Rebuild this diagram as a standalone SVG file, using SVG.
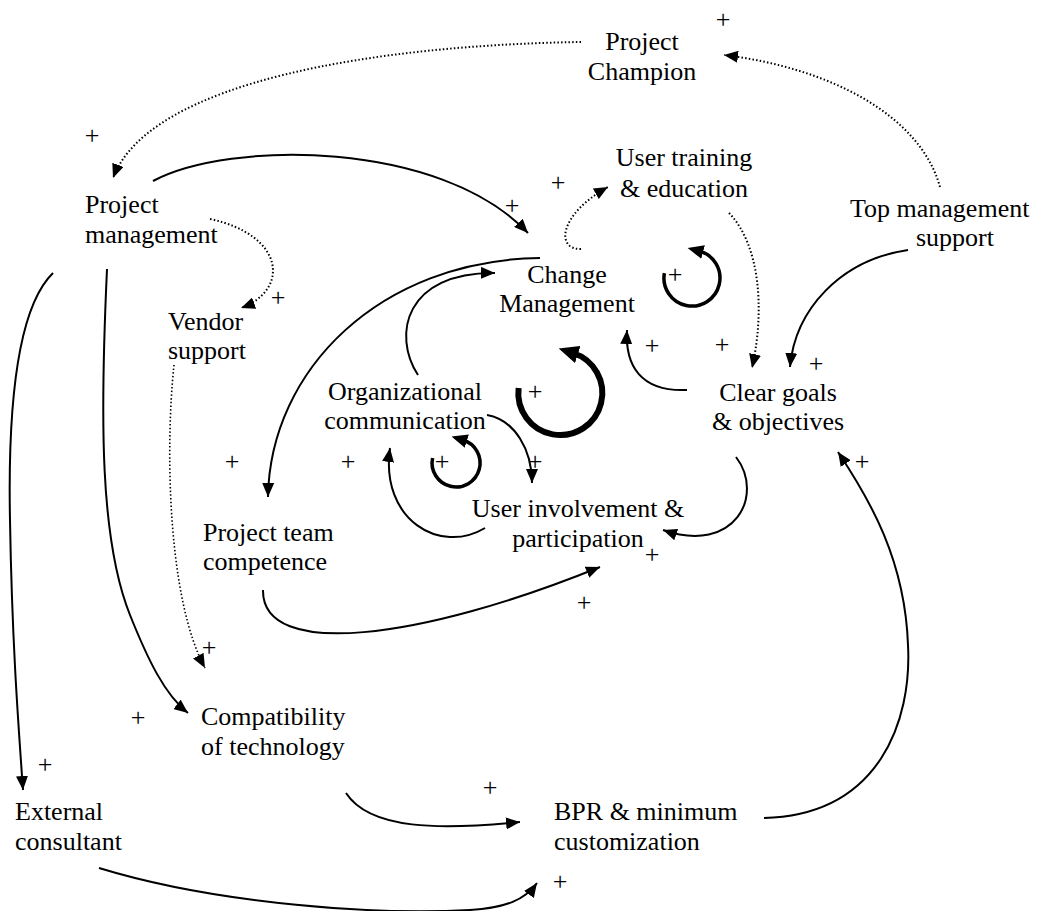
<svg xmlns="http://www.w3.org/2000/svg" width="1047" height="911" viewBox="0 0 1047 911">
<style>
.lbl{font-family:"Liberation Serif","Times New Roman","DejaVu Serif",serif;font-size:26px;fill:#000}
.mid{text-anchor:middle}
.pol{font-family:"Liberation Serif","Times New Roman","DejaVu Serif",serif;font-size:26px;fill:#000;text-anchor:middle}
.c{fill:none;stroke:#000;stroke-width:2}
.d{fill:none;stroke:#000;stroke-width:2;stroke-dasharray:1.5 2.2}
.loop{fill:none;stroke:#000}
</style>
<defs>
<marker id="ah" viewBox="0 0 14 12" refX="14" refY="6" markerWidth="14" markerHeight="12" markerUnits="userSpaceOnUse" orient="auto">
<path d="M0,0 L14,6 L0,12 z" fill="#000"/>
</marker>
<marker id="ahS" viewBox="0 0 16 14" refX="4" refY="7" markerWidth="16" markerHeight="14" markerUnits="userSpaceOnUse" orient="auto">
<path d="M0,0 L16,7 L0,14 z" fill="#000"/>
</marker>
<marker id="ahL" viewBox="0 0 20 18" refX="5" refY="9" markerWidth="20" markerHeight="18" markerUnits="userSpaceOnUse" orient="auto">
<path d="M0,0 L20,9 L0,18 z" fill="#000"/>
</marker>
</defs>
<rect width="1047" height="911" fill="#fff"/>
<g id="connectors">
<path class="d" d="M581,42 C380,45 150,80 113,178" marker-end="url(#ah)"/>
<path class="d" d="M940,187 C920,115 830,68 724,55" marker-end="url(#ah)"/>
<path class="c" d="M153,181 C230,140 440,140 528,233" marker-end="url(#ah)"/>
<path class="d" d="M210,219 C285,235 290,290 241,308" marker-end="url(#ah)"/>
<path class="d" d="M581,249 C556,250 558,215 608,187" marker-end="url(#ah)"/>
<path class="d" d="M729,213 C760,245 765,310 752,368" marker-end="url(#ah)"/>
<path class="c" d="M908,250 C840,260 795,310 790,367" marker-end="url(#ah)"/>
<path class="c" d="M540,258 C380,260 270,370 268,497" marker-end="url(#ah)"/>
<path class="c" d="M418,375 C392,335 405,272 495,273" marker-end="url(#ah)"/>
<path class="c" d="M687,390 C640,392 625,365 627,330" marker-end="url(#ah)"/>
<path class="c" d="M487,415 C515,420 532,450 532,483" marker-end="url(#ah)"/>
<path class="c" d="M485,528 C440,555 380,520 390,448" marker-end="url(#ah)"/>
<path class="c" d="M736,457 C765,495 735,555 663,530" marker-end="url(#ah)"/>
<path class="c" d="M263,590 C262,660 420,640 600,567" marker-end="url(#ah)"/>
<path class="d" d="M174,365 C165,450 168,600 205,668" marker-end="url(#ah)" style="stroke-width:1.6"/>
<path class="c" d="M53,273 C15,310 8,420 10,520 C12,640 18,720 23,790" marker-end="url(#ah)"/>
<path class="c" d="M107,269 C100,420 100,540 130,615 C148,660 165,695 188,713" marker-end="url(#ah)"/>
<path class="c" d="M346,793 C370,830 440,830 520,822" marker-end="url(#ah)"/>
<path class="c" d="M99,868 C220,905 380,915 470,910 C505,908 525,900 537,883" marker-end="url(#ah)"/>
<path class="c" d="M764,818 C880,815 912,720 908,645 C905,560 870,500 838,452" marker-end="url(#ah)"/>
</g>
<g id="loops">
<path class="loop" style="stroke-width:3.5" d="M664.4,273.1 A28,28 0 1 0 699.2,251" marker-end="url(#ahS)"/>
<path class="loop" style="stroke-width:6" d="M518.6,388 A42,42 0 1 0 573,353" marker-end="url(#ahL)"/>
<path class="loop" style="stroke-width:3.5" d="M432.6,458 A24,24 0 1 0 463,440" marker-end="url(#ahS)"/>
</g>
<g id="node-project-champion"><text class="lbl mid" x="642" y="50">Project</text><text class="lbl mid" x="642" y="80">Champion</text></g>
<g id="node-project-management"><text class="lbl" x="85" y="213">Project</text><text class="lbl" x="85" y="243">management</text></g>
<g id="node-user-training"><text class="lbl mid" x="684" y="166">User training</text><text class="lbl mid" x="684" y="197">&amp; education</text></g>
<g id="node-top-management"><text class="lbl" x="850" y="217">Top management</text><text class="lbl mid" x="955" y="246">support</text></g>
<g id="node-change-management"><text class="lbl mid" x="567" y="283">Change</text><text class="lbl mid" x="567" y="312">Management</text></g>
<g id="node-vendor-support"><text class="lbl" x="168" y="330">Vendor</text><text class="lbl" x="168" y="359">support</text></g>
<g id="node-organizational-communication"><text class="lbl mid" x="405" y="400">Organizational</text><text class="lbl mid" x="405" y="429">communication</text></g>
<g id="node-clear-goals"><text class="lbl mid" x="778" y="401">Clear goals</text><text class="lbl mid" x="778" y="430">&amp; objectives</text></g>
<g id="node-project-team"><text class="lbl" x="203" y="541">Project team</text><text class="lbl" x="203" y="570">competence</text></g>
<g id="node-user-involvement"><text class="lbl mid" x="578" y="517">User involvement &amp;</text><text class="lbl mid" x="578" y="547">participation</text></g>
<g id="node-compatibility"><text class="lbl" x="201" y="725">Compatibility</text><text class="lbl" x="201" y="755">of technology</text></g>
<g id="node-external-consultant"><text class="lbl" x="15" y="820">External</text><text class="lbl" x="15" y="850">consultant</text></g>
<g id="node-bpr"><text class="lbl" x="554" y="820">BPR &amp; minimum</text><text class="lbl" x="554" y="850">customization</text></g>
<g id="polarity">
<text class="pol" x="723" y="28">+</text>
<text class="pol" x="92" y="144">+</text>
<text class="pol" x="512" y="214">+</text>
<text class="pol" x="558" y="191">+</text>
<text class="pol" x="278" y="306">+</text>
<text class="pol" x="675" y="283">+</text>
<text class="pol" x="652" y="354">+</text>
<text class="pol" x="722" y="353">+</text>
<text class="pol" x="816" y="372">+</text>
<text class="pol" x="535" y="400">+</text>
<text class="pol" x="232" y="470">+</text>
<text class="pol" x="348" y="470">+</text>
<text class="pol" x="442" y="470">+</text>
<text class="pol" x="535" y="470">+</text>
<text class="pol" x="652" y="563">+</text>
<text class="pol" x="584" y="611">+</text>
<text class="pol" x="209" y="656">+</text>
<text class="pol" x="138" y="726">+</text>
<text class="pol" x="45" y="773">+</text>
<text class="pol" x="490" y="796">+</text>
<text class="pol" x="560" y="890">+</text>
<text class="pol" x="862" y="470">+</text>
</g>
</svg>
